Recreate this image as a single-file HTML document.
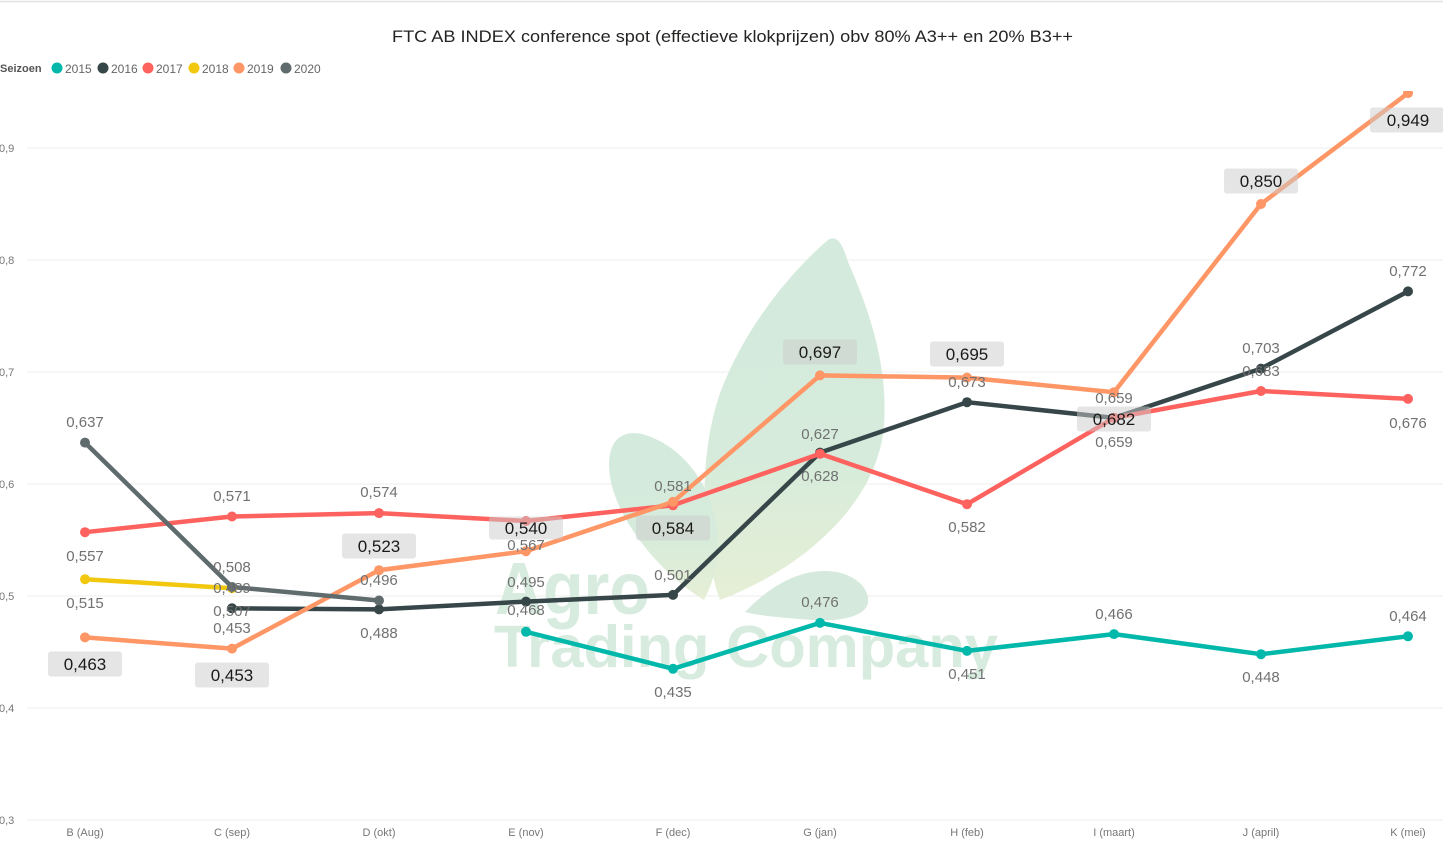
<!DOCTYPE html>
<html><head><meta charset="utf-8"><style>
html,body{margin:0;padding:0;background:#fff;}
svg{display:block;}
text{font-family:"Liberation Sans",sans-serif;}
</style></head><body>
<svg width="1443" height="851" viewBox="0 0 1443 851" xmlns="http://www.w3.org/2000/svg">
<defs>
<clipPath id="plot"><rect x="0" y="91" width="1443" height="760"/></clipPath>
<linearGradient id="lg" x1="0" y1="0" x2="0" y2="1">
<stop offset="0" stop-color="#d3eadc"/><stop offset="0.6" stop-color="#d6ebdb"/><stop offset="1" stop-color="#e6efd6"/>
</linearGradient>
</defs>
<rect width="1443" height="851" fill="#fff"/>
<line x1="0" y1="1.5" x2="1443" y2="1.5" stroke="#e1e1e1" stroke-width="1.5"/>

<!-- title -->
<text x="392" y="42" font-size="17" fill="#252423" textLength="681" lengthAdjust="spacingAndGlyphs">FTC AB INDEX conference spot (effectieve klokprijzen) obv 80% A3++ en 20% B3++</text>

<!-- legend -->
<text x="0" y="72" font-size="11" font-weight="bold" fill="#555">Seizoen</text>
<circle cx="57" cy="68" r="5.5" fill="#01B8AA"/><text x="65" y="73" font-size="12" fill="#666">2015</text>
<circle cx="103" cy="68" r="5.5" fill="#374649"/><text x="111" y="73" font-size="12" fill="#666">2016</text>
<circle cx="148" cy="68" r="5.5" fill="#FD625E"/><text x="156" y="73" font-size="12" fill="#666">2017</text>
<circle cx="194" cy="68" r="5.5" fill="#F2C80F"/><text x="202" y="73" font-size="12" fill="#666">2018</text>
<circle cx="239" cy="68" r="5.5" fill="#FE9666"/><text x="247" y="73" font-size="12" fill="#666">2019</text>
<circle cx="286" cy="68" r="5.5" fill="#5F6B6D"/><text x="294" y="73" font-size="12" fill="#666">2020</text>

<!-- gridlines -->
<g stroke="#ececec" stroke-width="1">
<line x1="27" y1="148" x2="1443" y2="148"/>
<line x1="27" y1="260" x2="1443" y2="260"/>
<line x1="27" y1="372" x2="1443" y2="372"/>
<line x1="27" y1="484" x2="1443" y2="484"/>
<line x1="27" y1="596" x2="1443" y2="596"/>
<line x1="27" y1="708" x2="1443" y2="708"/>
<line x1="27" y1="820" x2="1443" y2="820"/>
</g>
<g font-size="11" fill="#777">
<text x="-1" y="152">0,9</text>
<text x="-1" y="264">0,8</text>
<text x="-1" y="376">0,7</text>
<text x="-1" y="488">0,6</text>
<text x="-1" y="600">0,5</text>
<text x="-1" y="712">0,4</text>
<text x="-1" y="824">0,3</text>
</g>
<g font-size="11" fill="#777" text-anchor="middle">
<text x="85" y="836">B (Aug)</text>
<text x="232" y="836">C (sep)</text>
<text x="379" y="836">D (okt)</text>
<text x="526" y="836">E (nov)</text>
<text x="673" y="836">F (dec)</text>
<text x="820" y="836">G (jan)</text>
<text x="967" y="836">H (feb)</text>
<text x="1114" y="836">I (maart)</text>
<text x="1261" y="836">J (april)</text>
<text x="1408" y="836">K (mei)</text>
</g>

<!-- watermark -->
<g>
<path d="M720 600 C700 545,698 450,722 388 C748 322,795 268,828 240 C838 234,843 246,848 262 C870 312,888 365,884 425 C878 505,800 570,720 600 Z" fill="url(#lg)"/>
<path d="M704 600 C655 570,609 510,609 465 C609 440,622 430,642 434 C685 446,716 490,718 540 C719 568,710 588,704 600 Z" fill="url(#lg)"/>
<path d="M745 612 C768 588,795 571,825 571 C852 571,870 587,868 603 C865 616,842 622,812 620 C785 618,760 616,745 612 Z" fill="#d5eadc"/>
<text x="495" y="614" font-size="74" font-weight="bold" fill="#d7ebdf" textLength="155" lengthAdjust="spacingAndGlyphs">Agro</text>
<text x="494" y="667" font-size="59" font-weight="bold" fill="#d7ebdf" textLength="504" lengthAdjust="spacingAndGlyphs">Trading Company</text>
</g>

<!-- series -->
<g clip-path="url(#plot)" fill="none" stroke-width="4.5" stroke-linejoin="round" stroke-linecap="round">
<polyline stroke="#01B8AA" points="526,631.8 673,668.8 820,622.9 967,650.9 1114,634.1 1261,654.2 1408,636.3"/>
<polyline stroke="#374649" points="232,608.3 379,609.4 526,601.6 673,594.9 820,452.6 967,402.2 1114,417.9 1261,368.6 1408,291.4"/>
<polyline stroke="#FD625E" points="85,532.2 232,516.5 379,513.1 526,521 673,505.3 820,453.8 967,504.2 1114,417.9 1261,391 1408,398.9"/>
<polyline stroke="#F2C80F" points="85,579.2 232,588.2"/>
<polyline stroke="#FE9666" points="85,637.4 232,648.6 379,570.2 526,551.2 673,501.9 820,375.4 967,377.6 1114,392.2 1261,204 1408,93.1"/>
<polyline stroke="#5F6B6D" points="85,442.6 232,587 379,600.5"/>
</g>
<g clip-path="url(#plot)">
<g fill="#01B8AA"><circle cx="526" cy="631.8" r="5"/><circle cx="673" cy="668.8" r="5"/><circle cx="820" cy="622.9" r="5"/><circle cx="967" cy="650.9" r="5"/><circle cx="1114" cy="634.1" r="5"/><circle cx="1261" cy="654.2" r="5"/><circle cx="1408" cy="636.3" r="5"/></g>
<g fill="#374649"><circle cx="232" cy="608.3" r="5"/><circle cx="379" cy="609.4" r="5"/><circle cx="526" cy="601.6" r="5"/><circle cx="673" cy="594.9" r="5"/><circle cx="820" cy="452.6" r="5"/><circle cx="967" cy="402.2" r="5"/><circle cx="1114" cy="417.9" r="5"/><circle cx="1261" cy="368.6" r="5"/><circle cx="1408" cy="291.4" r="5"/></g>
<g fill="#FD625E"><circle cx="85" cy="532.2" r="5"/><circle cx="232" cy="516.5" r="5"/><circle cx="379" cy="513.1" r="5"/><circle cx="526" cy="521" r="5"/><circle cx="673" cy="505.3" r="5"/><circle cx="820" cy="453.8" r="5"/><circle cx="967" cy="504.2" r="5"/><circle cx="1114" cy="417.9" r="5"/><circle cx="1261" cy="391" r="5"/><circle cx="1408" cy="398.9" r="5"/></g>
<g fill="#F2C80F"><circle cx="85" cy="579.2" r="5"/><circle cx="232" cy="588.2" r="5"/></g>
<g fill="#FE9666"><circle cx="85" cy="637.4" r="5"/><circle cx="232" cy="648.6" r="5"/><circle cx="379" cy="570.2" r="5"/><circle cx="526" cy="551.2" r="5"/><circle cx="673" cy="501.9" r="5"/><circle cx="820" cy="375.4" r="5"/><circle cx="967" cy="377.6" r="5"/><circle cx="1114" cy="392.2" r="5"/><circle cx="1261" cy="204" r="5"/><circle cx="1408" cy="93.1" r="5"/></g>
<g fill="#5F6B6D"><circle cx="85" cy="442.6" r="5"/><circle cx="232" cy="587" r="5"/><circle cx="379" cy="600.5" r="5"/></g>
</g>

<!-- gray data labels -->
<g font-size="15" fill="#717171" text-anchor="middle">
<text x="85" y="427">0,637</text>
<text x="232" y="501">0,571</text>
<text x="379" y="497">0,574</text>
<text x="85" y="561">0,557</text>
<text x="85" y="608">0,515</text>
<text x="232" y="572">0,508</text>
<text x="232" y="593">0,489</text>
<text x="232" y="616">0,507</text>
<text x="232" y="633">0,453</text>
<text x="379" y="585">0,496</text>
<text x="379" y="638">0,488</text>
<text x="526" y="550">0,567</text>
<text x="526" y="587">0,495</text>
<text x="526" y="615">0,468</text>
<text x="673" y="491">0,581</text>
<text x="673" y="580">0,501</text>
<text x="673" y="697">0,435</text>
<text x="820" y="439">0,627</text>
<text x="820" y="481">0,628</text>
<text x="820" y="607">0,476</text>
<text x="967" y="387">0,673</text>
<text x="967" y="532">0,582</text>
<text x="967" y="679">0,451</text>
<text x="1114" y="403">0,659</text>
<text x="1114" y="447">0,659</text>
<text x="1114" y="619">0,466</text>
<text x="1261" y="353">0,703</text>
<text x="1261" y="376">0,683</text>
<text x="1261" y="682">0,448</text>
<text x="1408" y="276">0,772</text>
<text x="1408" y="428">0,676</text>
<text x="1408" y="621">0,464</text>
</g>

<!-- boxed labels (2019) -->
<g fill="#cccccc" fill-opacity="0.5">
<rect x="48" y="651.5" width="74" height="25" rx="3"/>
<rect x="195" y="662.5" width="74" height="25" rx="3"/>
<rect x="342" y="533.5" width="74" height="25" rx="3"/>
<rect x="489" y="516.5" width="74" height="23" rx="3"/>
<rect x="636" y="515.5" width="74" height="25" rx="3"/>
<rect x="783" y="339.5" width="74" height="25" rx="3"/>
<rect x="930" y="341.5" width="74" height="25" rx="3"/>
<rect x="1077" y="406.5" width="74" height="25" rx="3"/>
<rect x="1224" y="168.5" width="74" height="25" rx="3"/>
<rect x="1370" y="107.5" width="74" height="25" rx="3"/>
</g>
<g font-size="17" fill="#1a1a1a" text-anchor="middle">
<text x="85" y="670">0,463</text>
<text x="232" y="681">0,453</text>
<text x="379" y="552">0,523</text>
<text x="526" y="534">0,540</text>
<text x="673" y="534">0,584</text>
<text x="820" y="358">0,697</text>
<text x="967" y="360">0,695</text>
<text x="1114" y="425">0,682</text>
<text x="1261" y="187">0,850</text>
<text x="1408" y="126">0,949</text>
</g>
</svg>
</body></html>
